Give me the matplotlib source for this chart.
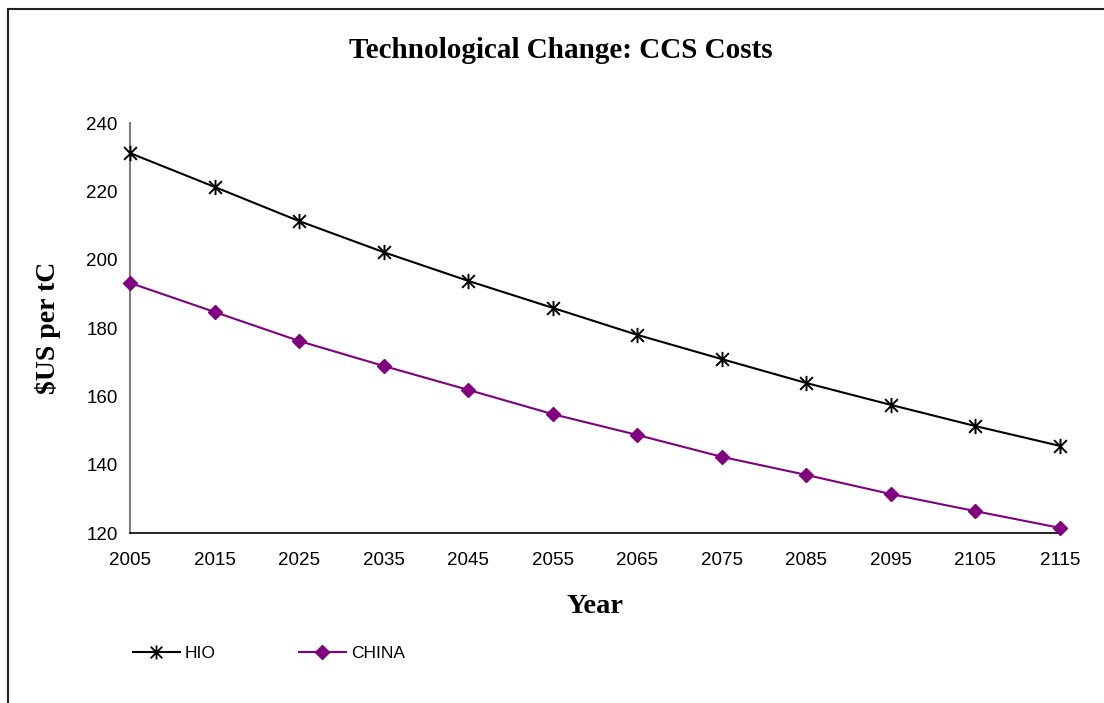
import numpy as np
import matplotlib.pyplot as plt
from matplotlib.path import Path
from matplotlib.lines import Line2D

years = [2005, 2015, 2025, 2035, 2045, 2055, 2065, 2075, 2085, 2095, 2105, 2115]
hio = [231.2, 221.3, 211.3, 202.2, 193.8, 185.9, 178.0, 170.9, 163.9, 157.5, 151.3, 145.5]
china = [193.2, 184.7, 176.2, 168.9, 161.9, 154.8, 148.7, 142.3, 137.0, 131.4, 126.4, 121.5]
y_ticks = [120, 140, 160, 180, 200, 220, 240]

# Excel-style star marker: an X crossed by a vertical bar
star = Path([(-1, -1), (1, 1), (-1, 1), (1, -1), (0, -1.2), (0, 1.2)],
            [Path.MOVETO, Path.LINETO, Path.MOVETO, Path.LINETO, Path.MOVETO, Path.LINETO])

purple = '#800080'
sans = 'Liberation Sans'
serif = 'Liberation Serif'

fig = plt.figure(figsize=(11.04, 7.03), dpi=100)
ax = fig.add_axes([0.1178, 0.2418, 0.8423, 0.5832])

ax.plot(years, hio, color='black', lw=1.5, marker=star, ms=11, mew=1.4,
        clip_on=False, zorder=3)
ax.plot(years, china, color=purple, lw=1.5, marker='D', ms=7.5, mec=purple,
        mfc=purple, clip_on=False, zorder=3)

ax.set_xlim(2005, 2115)
ax.set_ylim(120, 240)
ax.set_xticks(years)
ax.set_yticks(y_ticks)
ax.tick_params(length=0, labelsize=13.5)
ax.tick_params(axis='y', pad=9)
ax.tick_params(axis='x', pad=13.5)
for lab in ax.get_xticklabels() + ax.get_yticklabels():
    lab.set_fontfamily(sans)

for side in ('top', 'right'):
    ax.spines[side].set_visible(False)
ax.spines['left'].set_color('#808080')
ax.spines['left'].set_linewidth(1.5)
ax.spines['bottom'].set_color('black')
ax.spines['bottom'].set_linewidth(1.2)

fig.text(561 / 1104, 1 - 50 / 703, 'Technological Change: CCS Costs', fontfamily=serif,
         fontweight='bold', fontsize=21, ha='center', va='center')
ax.set_xlabel('Year', fontfamily=serif, fontweight='bold', fontsize=20.5, labelpad=18)
ax.set_ylabel('$US per tC', fontfamily=serif, fontweight='bold', fontsize=20, labelpad=18)

handles = [Line2D([], [], color='black', lw=1.5, marker=star, ms=10, mew=1.3),
           Line2D([], [], color=purple, lw=1.5, marker='D', ms=7, mec=purple, mfc=purple)]
fig.legend(handles, ['HIO', 'CHINA'], loc='center left', bbox_to_anchor=(0.106, 0.071),
           ncol=2, frameon=False, prop={'family': sans, 'size': 12.5},
           handlelength=2.7, handletextpad=0.3, columnspacing=4.8)

# chart frame, only the top and left edges fall inside the image
fig.add_artist(Line2D([0.0072, 0.0072], [0.0, 0.987], color='#222222', lw=1.5,
                      transform=fig.transFigure))
fig.add_artist(Line2D([0.0072, 1.0], [0.987, 0.987], color='#222222', lw=1.5,
                      transform=fig.transFigure))

fig.savefig('out.png', dpi=100)
